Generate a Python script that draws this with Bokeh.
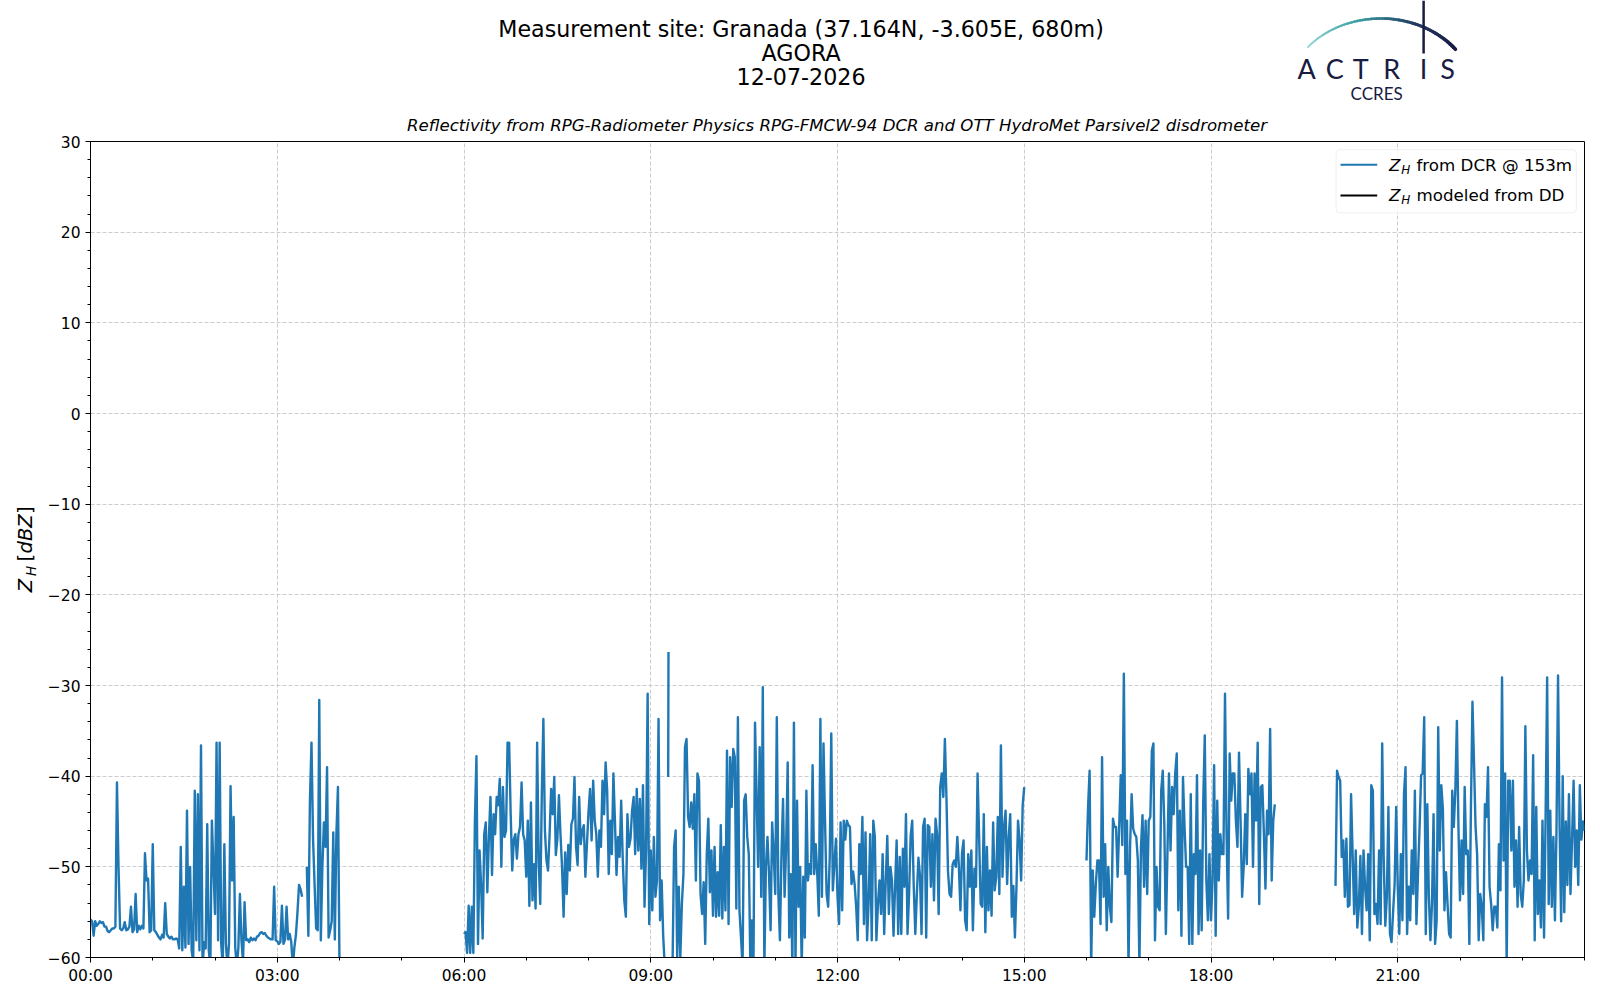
import numpy as np
from bokeh.plotting import figure
from bokeh.layouts import column, row
from bokeh.models import Range1d, FixedTicker, Label, BoxAnnotation, Arrow
from bokeh.embed import file_html
from bokeh.resources import INLINE

# ---------------- text ----------------
TITLE_LINES = ["Measurement site: Granada (37.164N, -3.605E, 680m)", "AGORA", "12-07-2026"]
SUBTITLE = "Reflectivity from RPG-Radiometer Physics RPG-FMCW-94 DCR and OTT HydroMet Parsivel2 disdrometer"
LEGEND_LABELS = ["from DCR @ 153m", "modeled from DD"]
X_TICKS = [0, 3, 6, 9, 12, 15, 18, 21]
X_TICK_LABELS = ["00:00", "03:00", "06:00", "09:00", "12:00", "15:00", "18:00", "21:00"]
Y_TICKS = [-60, -50, -40, -30, -20, -10, 0, 10, 20, 30]
Y_TICK_LABELS = ["\u221260", "\u221250", "\u221240", "\u221230", "\u221220", "\u221210", "0", "10", "20", "30"]

# ---------------- data: Z_H from DCR at 153 m (dBZ); segments = (start hour, step hour, values) ----------------
seg1_start, seg1_step = 0.0, 0.025
seg1_zh = [-55.8, -56.0, -57.6, -56.0, -56.5, -56.3, -56.0, -56.2, -56.1, -56.6,
           -56.6, -57.1, -57.2, -57.0, -56.8, -56.8, -56.6, -40.7, -50.0, -56.8,
           -57.0, -56.8, -56.1, -57.0, -56.9, -56.6, -54.4, -57.2, -56.9, -53.0,
           -57.2, -56.5, -56.9, -56.5, -56.8, -48.5, -51.5, -51.3, -57.2, -57.0,
           -47.5, -57.0, -57.2, -57.5, -57.8, -58.0, -57.5, -57.8, -54.0, -57.4,
           -57.7, -57.9, -57.7, -58.0, -58.0, -57.9, -58.0, -59.0, -47.8, -59.2,
           -52.2, -58.9, -43.8, -58.5, -50.0, -59.2, -60.5, -41.6, -58.1, -42.0,
           -59.2, -36.6, -61.0, -58.3, -59.0, -45.3, -59.2, -61.0, -44.9, -50.0,
           -55.2, -36.3, -58.1, -36.3, -58.5, -61.0, -47.5, -58.5, -61.0, -58.5,
           -41.1, -51.5, -44.5, -58.9, -61.0, -59.0, -53.0, -58.1, -60.5, -53.9,
           -58.1, -58.0, -58.3, -57.8, -58.1, -57.9, -58.1, -57.7, -57.6, -57.3,
           -57.2, -57.4, -57.3, -57.6, -57.8, -57.9, -58.0, -58.0, -52.2, -58.1,
           -58.2, -58.5, -58.3, -54.3, -58.5, -58.0, -54.4, -58.0, -57.4, -58.3,
           -61.0, -58.9, -57.5, -55.0, -52.0, -52.5, -53.3]

seg2_start, seg2_step = 3.475, 0.025
seg2_zh = [-50.0, -57.6, -42.7, -36.3, -46.9, -52.0, -56.8, -57.0, -31.6, -58.1,
           -50.0, -45.1, -47.8, -39.0, -57.8, -57.0, -56.0, -46.2, -58.0, -46.4,
           -41.2, -61.0]

seg3_start, seg3_step = 6.0, 0.025
seg3_zh = [-57.4, -57.2, -59.5, -54.3, -59.5, -54.4, -59.5, -45.0, -37.8, -58.5,
           -48.2, -52.0, -57.9, -46.4, -45.1, -52.8, -46.7, -42.3, -50.9, -44.2,
           -46.4, -42.3, -43.2, -40.3, -50.0,
           -41.2, -46.7, -46.0, -36.3, -36.3, -44.2, -50.4, -47.0, -46.4, -49.1,
           -46.4, -45.6, -40.7, -46.4, -47.1, -51.1, -44.9, -54.3, -42.9, -53.7,
           -49.7, -54.6, -36.3, -49.5, -54.1, -42.0, -33.7, -46.0, -49.3, -50.4,
           -46.4, -41.4, -44.2, -40.1, -48.7, -46.9, -42.1, -46.4, -50.0, -55.5,
           -48.4, -53.0, -47.6, -50.4, -45.3, -44.7, -40.1, -47.8, -49.8, -42.3,
           -47.5, -46.0, -45.4, -51.1, -47.5,
           -44.0, -41.4, -47.1, -40.5, -44.9, -46.4, -51.1, -46.0, -47.8, -40.5,
           -44.2, -38.5, -41.6, -50.8, -44.9, -48.6, -39.7, -45.0, -50.9, -46.7,
           -48.9, -42.7, -49.1, -53.7, -55.5, -44.2, -47.8, -46.9, -43.8, -42.3,
           -48.6, -41.4, -48.2, -42.5, -50.2, -41.0, -54.4, -48.0, -30.9, -56.3,
           -48.2, -54.8, -46.7, -53.3, -51.5, -33.7, -55.9, -51.5, -57.6, -61.0]

seg4_start, seg4_step = 9.28, 0.005
seg4_zh = [-40.1, -26.3]

seg5_start, seg5_step = 9.35, 0.025
seg5_zh = [-61.0, -47.8, -46.0, -60.0, -52.2, -60.0, -54.1, -50.8, -36.8, -35.9,
           -44.5, -45.6, -42.9, -45.8, -42.0, -51.5, -39.7, -40.5, -53.0, -55.2,
           -51.7, -58.5, -48.6, -44.7, -52.8, -48.2, -55.4, -47.8, -55.5, -50.6,
           -55.4, -45.4, -55.7, -47.8, -54.8, -37.2, -56.3, -37.9, -43.4, -37.0,
           -37.9, -54.6, -33.5, -54.8,
           -57.8, -61.0, -42.7, -42.0, -46.7, -48.6, -61.0, -55.9, -61.0, -34.1,
           -42.0, -50.0, -36.8, -53.3, -30.2, -61.0, -50.0, -46.7, -50.8, -57.0,
           -45.1, -48.6, -53.0, -33.5, -53.0, -58.1, -48.6, -42.5, -53.3, -47.8,
           -38.5, -57.8, -50.8, -61.0, -34.1, -61.0, -42.7, -54.4, -50.0, -61.0,
           -51.1, -57.8, -41.6, -51.5, -49.7, -50.8, -38.8, -50.8, -47.5, -50.8,
           -55.4, -33.7, -53.3, -36.4, -45.0, -53.0, -54.4, -49.1, -35.3, -52.6,
           -49.7, -46.9, -53.3, -56.3, -45.1, -54.8, -44.9, -47.0, -44.9, -45.4,
           -45.6, -51.9, -50.5, -51.9, -54.4, -58.1, -47.5, -50.8, -44.5, -56.3,
           -46.2, -58.1, -53.9, -46.4, -58.1, -44.9, -46.7, -58.1, -54.1, -51.5,
           -55.2, -48.6, -57.4, -51.5, -46.6, -55.2, -50.0, -51.5, -57.6, -52.2,
           -47.1, -57.4, -48.9, -57.4, -48.0, -52.2, -44.2, -57.4, -53.0, -46.6,
           -44.9, -52.2, -57.4, -53.0, -49.0, -51.0, -57.4, -45.6, -44.7, -57.8,
           -45.4, -45.6, -52.2, -46.4, -53.7, -44.7, -46.4, -55.2, -41.2, -39.7,
           -42.3, -35.9, -42.3, -50.5, -53.0, -53.3, -49.7, -49.3, -50.0, -46.7,
           -50.0, -54.8,
           -48.5, -47.1, -55.9, -57.0, -48.6, -52.2, -48.2, -57.0, -50.2, -52.2,
           -39.7, -46.7, -54.1, -54.4, -44.2, -57.2, -47.8, -54.8, -50.4, -55.4,
           -45.1, -52.6, -51.1, -44.5, -53.0, -36.6, -51.1, -45.6, -43.8, -51.9,
           -46.7, -44.2, -55.5, -52.1, -57.8, -52.2, -44.9, -47.1, -51.5, -43.2,
           -41.2]

seg6_start, seg6_step = 16.0, 0.025
seg6_zh = [-49.3, -43.4, -39.4, -61.0, -50.4, -55.5, -51.9, -49.3, -49.3, -56.3,
           -37.9, -53.3, -47.5, -57.0, -50.0, -54.4, -56.1, -44.7, -45.6, -45.6,
           -51.1, -45.6, -39.9, -47.6, -28.7, -50.8, -44.9, -61.0, -47.8, -42.0,
           -45.8, -46.4, -46.7, -49.3, -61.0, -47.8, -44.3, -52.2, -44.9, -53.0,
           -44.9, -44.5, -37.2, -36.4, -58.1, -50.0, -54.4, -54.8, -41.6, -39.4,
           -45.3, -57.4, -48.6, -39.7, -48.2, -41.2, -44.2, -39.7, -37.5, -54.8,
           -43.8, -57.6, -40.1, -45.6, -50.0, -50.0, -58.5, -42.0, -58.5, -48.6,
           -50.8, -39.9, -57.4, -48.2, -57.0, -42.9, -35.5, -51.5, -55.9, -48.6,
           -55.9, -51.5, -38.8, -57.6, -42.7, -51.5, -46.4, -48.6, -48.6, -30.9,
           -46.4, -55.7, -37.5, -42.7, -39.7, -39.7, -44.9, -47.8, -37.4, -44.9,
           -53.3, -50.0, -44.2, -49.7, -39.2, -42.0, -39.7, -50.0, -39.7, -44.9,
           -36.3, -54.1, -41.2, -41.0, -46.4, -52.4, -43.8, -46.4, -34.8, -51.5,
           -44.9, -43.1]

seg7_start, seg7_step = 20.0, 0.025
seg7_zh = [-52.1, -39.4, -40.1, -40.5, -48.9, -47.1, -53.3, -46.9, -54.4, -54.2,
           -42.0, -48.6, -55.2, -48.2, -56.7, -54.4, -48.8, -57.4, -48.2, -52.2,
           -54.8, -48.6, -58.1, -41.0, -41.6, -55.2, -54.1, -56.3, -48.2, -56.3,
           -36.4, -49.3, -56.5, -53.3, -43.4, -57.4, -58.3, -55.0, -51.9, -43.4,
           -52.2, -57.4, -48.6, -55.9, -42.0, -39.0, -57.4, -52.2, -55.9, -48.2,
           -53.0, -41.6, -56.3, -50.8, -45.8, -39.9, -39.7, -33.5, -57.4, -43.1,
           -53.3, -58.1, -54.1, -44.2, -58.5, -55.9, -34.6, -48.2, -41.0, -43.6,
           -54.8, -50.6, -54.1, -57.4, -57.8, -41.6, -45.6, -41.6, -33.9, -45.6,
           -53.7, -47.1, -53.0, -41.2, -48.6, -48.2, -58.5, -43.8, -31.8, -38.5,
           -45.6, -48.6, -58.1, -53.0, -54.4, -58.1, -43.1, -44.5, -39.0, -52.2,
           -54.1, -57.0, -54.4, -54.4, -56.7, -47.5, -52.6, -29.1, -49.3, -39.7,
           -61.0, -40.5, -40.5, -48.2, -40.5, -52.2, -47.1, -54.4, -45.6, -53.0,
           -54.4, -51.5, -34.5, -48.2, -51.5, -49.3, -50.8, -37.7, -58.1, -43.4,
           -55.2, -51.5, -56.7, -44.9, -57.8, -44.5, -29.1, -54.1, -43.8, -54.4,
           -46.7, -55.9, -46.0, -28.9, -45.6,
           -56.0, -40.0, -55.0, -45.0, -52.0, -42.0, -53.0, -47.0, -40.5, -50.0,
           -46.0, -52.0, -41.0, -47.0, -45.0, -46.0]

SEGMENTS = [(seg1_start, seg1_step, seg1_zh), (seg2_start, seg2_step, seg2_zh),
            (seg3_start, seg3_step, seg3_zh), (seg4_start, seg4_step, seg4_zh),
            (seg5_start, seg5_step, seg5_zh), (seg6_start, seg6_step, seg6_zh),
            (seg7_start, seg7_step, seg7_zh)]

xs, ys = [], []
for start, step, vals in SEGMENTS:
    t = start + step * np.arange(len(vals))
    xs.extend(t.tolist()); ys.extend(vals)
    xs.append(np.nan); ys.append(np.nan)

BLUE = "#1f77b4"
NAVY = "#181b42"
FONT = "DejaVu Sans"

LW = 44            # left strip holding the y-axis label
CW = 1600 - LW     # width of header / main column
HH = 135           # header height
MH = 852           # main plot height
BL, BR = 89 - LW, 16

# ---------------- left strip (y-axis label) ----------------
left = figure(width=LW, height=HH + MH, x_range=Range1d(0, LW), y_range=Range1d(0, HH + MH),
              x_axis_location=None, y_axis_location=None, toolbar_location=None,
              output_backend="svg", min_border=0, title=None)
left.outline_line_color = None
left.grid.visible = False
TOT = HH + MH
ylab = [("Z", 25.0, 591.7, "italic", "19.5px"),
        ("H", 30.0, 575.5, "italic", "13.5px"),
        ("[", 25.0, 561.0, "normal", "19.5px"),
        ("dBZ", 25.0, 553.0, "italic", "19.5px"),
        ("]", 25.0, 513.5, "normal", "19.5px")]
for txt, x, ypage, st, fs in ylab:
    left.add_layout(Label(x=x, y=TOT - ypage, text=txt, angle=np.pi / 2, text_align="left",
                          text_baseline="middle", text_font=FONT, text_font_style=st,
                          text_font_size=fs, text_color="black"))

# ---------------- header ----------------
hdr = figure(width=CW, height=HH, x_range=Range1d(89, 1584), y_range=Range1d(HH, 0),
             x_axis_location=None, y_axis_location=None, toolbar_location=None,
             output_backend="svg", min_border_left=BL, min_border_right=BR,
             min_border_top=0, min_border_bottom=0, title=None)
hdr.outline_line_color = None
hdr.grid.visible = False

for txt, yc in zip(TITLE_LINES, [28.7, 52.2, 76.0]):
    hdr.add_layout(Label(x=800, y=yc, text=txt, text_align="center", text_baseline="middle",
                         text_font=FONT, text_font_size="22.2px", text_color="black"))
hdr.add_layout(Label(x=836, y=125.3, text=SUBTITLE, text_align="center", text_baseline="middle",
                     text_font=FONT, text_font_size="16.6px", text_font_style="italic", text_color="black"))

# logo (decoration): gradient arc, mast, lettering
theta = np.linspace(np.radians(140), np.radians(38), 61)
axp = 1380 + 95 * np.cos(theta)
ayp = 98 - 80 * np.sin(theta)
stops = [(0.0, (150, 215, 212)), (0.35, (60, 160, 165)), (0.7, (35, 60, 100)), (1.0, (24, 27, 66))]
def interp(f):
    for (f0, c0), (f1, c1) in zip(stops[:-1], stops[1:]):
        if f <= f1:
            u = (f - f0) / (f1 - f0)
            return "#%02x%02x%02x" % tuple(int(round(a + (b - a) * u)) for a, b in zip(c0, c1))
    return "#%02x%02x%02x" % stops[-1][1]
n = len(axp) - 1
hdr.multi_line(xs=[[axp[i], axp[i + 1]] for i in range(n)], ys=[[ayp[i], ayp[i + 1]] for i in range(n)],
               line_color=[interp(i / (n - 1)) for i in range(n)],
               line_width=[1.8 + 1.8 * i / (n - 1) for i in range(n)], line_cap="round")
hdr.segment(x0=[1423], y0=[0], x1=[1423], y1=[53], line_color=NAVY, line_width=2.5)
for ch, cx in zip("ACTRIS", [1306, 1334, 1360, 1391, 1423, 1447]):
    hdr.add_layout(Label(x=cx, y=68.3, text=ch, text_align="center", text_baseline="middle",
                         text_font="Lato", text_font_size="27px", text_color=NAVY))
hdr.add_layout(Label(x=1376, y=93.3, text="CCRES", text_align="center", text_baseline="middle",
                     text_font="Lato", text_font_size="17px", text_color=NAVY))

# ---------------- main plot ----------------
p = figure(width=CW, height=MH, x_range=Range1d(0, 24), y_range=Range1d(-60, 30),
           toolbar_location=None, output_backend="svg", title=None,
           min_border_left=BL, min_border_right=BR, min_border_top=6, min_border_bottom=30)
p.outline_line_color = "black"
p.outline_line_width = 1

p.line(xs, ys, line_color=BLUE, line_width=2.4, line_join="round")

p.xaxis.ticker = FixedTicker(ticks=X_TICKS, minor_ticks=list(range(0, 25)))
p.xaxis.major_label_overrides = dict(zip(X_TICKS, X_TICK_LABELS))
p.yaxis.ticker = FixedTicker(ticks=Y_TICKS, minor_ticks=list(range(-60, 31, 2)))
p.yaxis.major_label_overrides = dict(zip(Y_TICKS, Y_TICK_LABELS))
for ax in (p.xaxis, p.yaxis):
    ax.axis_line_color = "black"
    ax.major_tick_line_color = "black"
    ax.minor_tick_line_color = "black"
    ax.major_tick_out = 5
    ax.major_tick_in = 0
    ax.minor_tick_out = 3
    ax.minor_tick_in = 0
    ax.major_label_text_font = FONT
    ax.major_label_text_font_size = "15.5px"
    ax.major_label_text_color = "black"
p.xaxis.major_label_standoff = 4
p.yaxis.major_label_standoff = 5
p.grid.grid_line_color = "#cccccc"
p.grid.grid_line_dash = "4 2"
p.grid.grid_line_width = 1

# legend
p.add_layout(BoxAnnotation(left=20.01, right=23.87, top=29.10, bottom=22.12, fill_color="white",
                           fill_alpha=0.8, line_color="#cccccc", line_width=1, border_radius=4))
for yl, yc, ysub, col, lab in [(27.43, 27.39, 26.88, BLUE, LEGEND_LABELS[0]),
                                (24.04, 24.08, 23.55, "black", LEGEND_LABELS[1])]:
    p.add_layout(Arrow(end=None, x_start=20.08, y_start=yl, x_end=20.67, y_end=yl,
                       line_color=col, line_width=2.1))
    p.add_layout(Label(x=20.86, y=yc, text="Z", text_font=FONT, text_font_style="italic",
                       text_font_size="16.7px", text_baseline="middle", text_color="black"))
    p.add_layout(Label(x=21.055, y=ysub, text="H", text_font=FONT, text_font_style="italic",
                       text_font_size="12px", text_baseline="middle", text_color="black"))
    p.add_layout(Label(x=21.30, y=yc, text=lab, text_font=FONT,
                       text_font_size="16.7px", text_baseline="middle", text_color="black"))

layout = row(left, column(hdr, p, spacing=0), spacing=0)
open("out.html", "w").write(file_html(layout, INLINE))
